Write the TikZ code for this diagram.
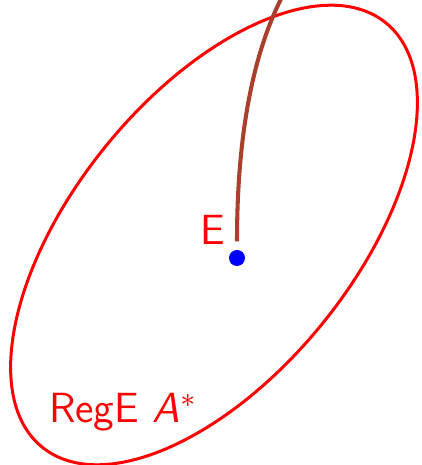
\documentclass[tikz,border=0pt]{standalone}
\usepackage{tikz}
\usepackage{xcolor}
\usetikzlibrary{positioning,calc}
\definecolor{regred}{HTML}{FF0000}
\definecolor{pathbrown}{HTML}{A8402C}
\definecolor{ptblue}{HTML}{0000FF}
\tikzset{
  region/.style={draw=regred, line width=0.85pt},
  trail/.style={draw=pathbrown, line width=1.15pt},
  ptdot/.style={circle, fill=ptblue, inner sep=0pt, minimum size=0.16cm},
  lbl/.style={text=regred, font=\sffamily\fontsize{12}{14}\selectfont, inner sep=1pt},
}

\begin{document}
\begin{tikzpicture}
\useasboundingbox (0,0) rectangle (4.22,4.65);

% ---- region ----
\draw[region, rotate around={51:(2.14,2.30)}] (2.14,2.30) ellipse [x radius=2.73cm, y radius=1.40cm];
\node[lbl] (reglbl) at (1.23,0.53) {RegE \textit{A}$^*$};

% ---- point and its trail ----
\node[ptdot] (pte) at (2.37,2.07) {};
\node[lbl, above left=0.03cm and 0.02cm of pte.north west, anchor=south east] (elbl) {E};
\coordinate (trtop) at (2.81,4.66);
\coordinate (trend) at ($(pte.north)+(0,0.08)$);
\draw[trail] (trend) .. controls (2.37,3.30) and (2.53,4.10) .. (trtop);

\end{tikzpicture}
\end{document}
